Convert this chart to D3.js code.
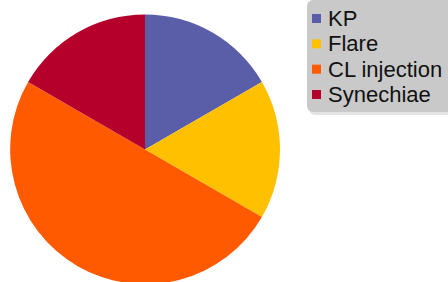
<!DOCTYPE html>
<html><head><meta charset="utf-8">
<script src="https://cdn.jsdelivr.net/npm/d3@7"></script>
<style>html,body{margin:0;padding:0;background:#fff;}svg{display:block;}</style>
</head><body>
<script>
const categories = ["KP", "Flare", "CL injection", "Synechiae"];
const values = [1, 1, 3, 1];
const colors = ["#5a5ea8", "#ffc000", "#ff5a00", "#b5002b"];

const W = 448, H = 282;
const svg = d3.select("body").append("svg").attr("width", W).attr("height", H);

const cx = 145, cy = 149.5, r = 135;
const pie = d3.pie().sort(null).value(d => d)(values);
const arc = d3.arc().innerRadius(0).outerRadius(r);
const color = d3.scaleOrdinal().domain(categories).range(colors);

svg.append("g").attr("transform", `translate(${cx},${cy})`)
  .selectAll("path").data(pie).join("path")
  .attr("d", arc)
  .attr("fill", (d, i) => color(categories[i]));

// legend
const lg = svg.append("g");
lg.append("rect").attr("x", 309).attr("y", 2).attr("width", 150).attr("height", 113)
  .attr("rx", 6).attr("fill", "#e4e4e4");
lg.append("rect").attr("x", 307).attr("y", 0).attr("width", 150).attr("height", 112)
  .attr("rx", 6).attr("fill", "#c9c9c9");

const ly = d3.scalePoint().domain(categories).range([18.5, 94.5]);
const items = lg.selectAll("g.item").data(categories).join("g")
  .attr("transform", d => `translate(312,${ly(d)})`);
items.append("rect").attr("x", 0).attr("y", -4.5).attr("width", 9).attr("height", 9)
  .attr("fill", d => color(d));
items.append("text").attr("x", 16).attr("y", 7.5)
  .attr("font-family", "Liberation Sans, Arial, sans-serif").attr("font-size", 22)
  .attr("fill", "#111").text(d => d);
</script>
</body></html>
